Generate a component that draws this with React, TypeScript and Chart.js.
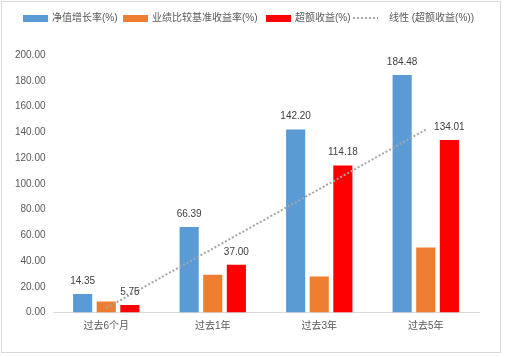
import React, { useEffect, useRef } from "react";
import { Chart, registerables } from "chart.js";

Chart.register(...registerables);

const categories = ["过去6个月", "过去1年", "过去3年", "过去5年"];
const navGrowth = [14.35, 66.39, 142.2, 184.48];
const benchmarkReturn = [8.6, 29.39, 28.02, 50.47];
const excessReturn = [5.75, 37.0, 114.18, 134.01];
const trendValues = [3.44, 49.64, 95.83, 142.03];
const seriesNames = ["净值增长率(%)", "业绩比较基准收益率(%)", "超额收益(%)", "线性 (超额收益(%))"];
const yTicks = [0, 20, 40, 60, 80, 100, 120, 140, 160, 180, 200];

const BLUE = "#5B9BD5";
const ORANGE = "#ED7D31";
const RED = "#FF0000";
const GRAY = "#A5A5A5";
const TEXT = "#595959";
const FONT = "'Liberation Sans', 'Noto Sans CJK SC', sans-serif";

const framePlugin = {
  id: "frame",
  beforeDraw(chart: any) {
    const ctx = chart.ctx;
    ctx.save();
    ctx.fillStyle = "#ffffff";
    ctx.fillRect(0, 0, chart.width, chart.height);
    ctx.strokeStyle = "#D9D9D9";
    ctx.lineWidth = 1;
    ctx.strokeRect(1.5, 1.5, 499, 351);
    ctx.restore();
  },
  afterDraw(chart: any) {
    const ctx = chart.ctx;
    ctx.save();
    ctx.font = `10px ${FONT}`;
    ctx.textBaseline = "middle";
    ctx.textAlign = "left";
    const cy = 18;
    const starts = [23, 123, 266, 353];
    const colors = [BLUE, ORANGE, RED];
    for (let i = 0; i < 4; i++) {
      const x = starts[i];
      if (i < 3) {
        ctx.fillStyle = colors[i];
        ctx.fillRect(x, cy - 3, 25, 7);
      } else {
        ctx.strokeStyle = GRAY;
        ctx.lineWidth = 2;
        ctx.setLineDash([2, 2]);
        ctx.beginPath();
        ctx.moveTo(x, cy);
        ctx.lineTo(x + 25, cy);
        ctx.stroke();
        ctx.setLineDash([]);
      }
      ctx.fillStyle = TEXT;
      ctx.fillText(seriesNames[i], x + (i < 3 ? 29 : 36), cy + 0.5);
    }
    ctx.restore();
  },
  afterDatasetsDraw(chart: any) {
    const ctx = chart.ctx;
    ctx.save();
    ctx.font = `10px ${FONT}`;
    ctx.fillStyle = "#404040";
    ctx.textAlign = "center";
    ctx.textBaseline = "middle";
    [1, 3].forEach((di) => {
      const meta = chart.getDatasetMeta(di);
      const data = chart.data.datasets[di].data as number[];
      meta.data.forEach((el: any, i: number) => {
        ctx.fillText(data[i].toFixed(2), el.x, el.y - 13);
      });
    });
    ctx.restore();
  },
};

export default function App() {
  const ref = useRef<HTMLCanvasElement | null>(null);
  useEffect(() => {
    if (!ref.current) return;
    const chart = new Chart(ref.current, {
      type: "bar",
      data: {
        labels: categories,
        datasets: [
          {
            type: "line",
            label: seriesNames[3],
            data: trendValues,
            borderColor: GRAY,
            borderWidth: 2,
            borderDash: [2, 2],
            pointRadius: 0,
            fill: false,
            tension: 0,
            order: 0,
          } as any,
          {
            label: seriesNames[0],
            data: navGrowth,
            backgroundColor: BLUE,
            order: 1,
          },
          {
            label: seriesNames[1],
            data: benchmarkReturn,
            backgroundColor: ORANGE,
            order: 1,
          },
          {
            label: seriesNames[2],
            data: excessReturn,
            backgroundColor: RED,
            order: 1,
          },
        ],
      },
      options: {
        responsive: false,
        animation: false,
        maintainAspectRatio: false,
        layout: { padding: { left: 0, right: 26, top: 55, bottom: 0 } },
        datasets: {
          bar: { categoryPercentage: 0.665, barPercentage: 0.81 },
        } as any,
        plugins: {
          legend: { display: false },
          tooltip: { enabled: false },
        },
        scales: {
          x: {
            grid: { display: false, drawTicks: false },
            border: { display: true, color: "#D9D9D9", width: 1 },
            ticks: { color: TEXT, font: { family: FONT, size: 10 }, padding: 8 },
            afterFit(scale: any) {
              scale.height = 44.5;
            },
          },
          y: {
            min: 0,
            max: 200,
            grid: { display: false, drawTicks: false },
            border: { display: false },
            afterBuildTicks(scale: any) {
              scale.ticks = yTicks.map((v) => ({ value: v }));
            },
            ticks: {
              color: TEXT,
              font: { family: FONT, size: 10 },
              padding: 7.5,
              callback: (v: any) => Number(v).toFixed(2),
            },
            afterFit(scale: any) {
              scale.width = 53;
            },
          },
        },
      },
      plugins: [framePlugin],
    });
    return () => chart.destroy();
  }, []);
  return (
    <div style={{ position: "absolute", left: 0, top: 0, width: 505, height: 357 }}>
      <canvas ref={ref} width={505} height={357} style={{ display: "block" }} />
    </div>
  );
}
